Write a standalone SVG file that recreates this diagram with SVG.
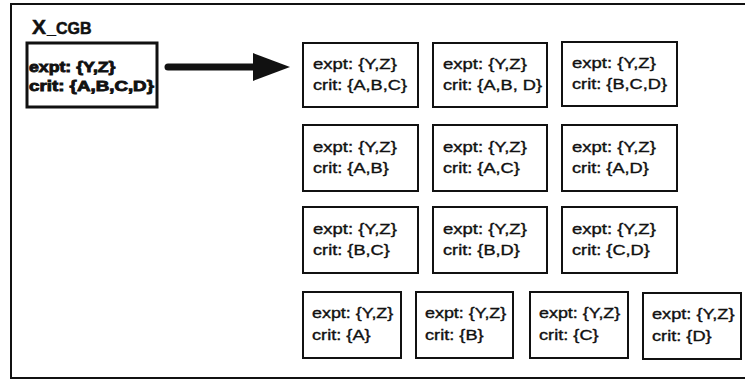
<svg xmlns="http://www.w3.org/2000/svg" width="745" height="381" viewBox="0 0 745 381">
  <defs>
    <marker id="head" markerUnits="userSpaceOnUse" markerWidth="38" markerHeight="30" refX="1" refY="15" orient="auto">
      <path d="M0,1 L37,15 L0,29 Z" fill="#111"/>
    </marker>
    <style>
      .frame { fill: #fff; stroke: #111; stroke-width: 2; }
      .box { fill: #fff; stroke: #111; stroke-width: 2; }
      .src { fill: #fff; stroke: #111; stroke-width: 3; }
      .t { font-family: "Liberation Sans", Arial, Helvetica, sans-serif; font-size: 14px; fill: #111; stroke: #111; stroke-width: 0.35px; }
      .tb { font-family: "Liberation Sans", Arial, Helvetica, sans-serif; font-size: 15px; font-weight: bold; fill: #111; stroke: #111; stroke-width: 0.9px; }
      .title { font-family: "Liberation Sans", Arial, Helvetica, sans-serif; font-weight: bold; fill: #111; stroke: #111; stroke-width: 0.5px; }
      .conn { stroke: #111; stroke-width: 7; stroke-linecap: round; fill: none; }
    </style>
  </defs>

  <rect width="745" height="381" fill="#fff"/>

  <!-- enclosing frame, right side runs past the edge -->
  <rect class="frame" x="11" y="4" width="760" height="374"/>

  <!-- frame title -->
  <text class="title" x="32" y="34"><tspan font-size="21">X</tspan><tspan font-size="16" dx="1">_CGB</tspan></text>

  <!-- source set -->
  <g id="node-src">
    <rect class="src" x="27" y="43" width="130" height="64"/>
    <text class="tb" transform="translate(29,72) scale(1.18,1)">expt: {Y,Z}</text>
    <text class="tb" transform="translate(29,91) scale(1.25,1)">crit: {A,B,C,D}</text>
  </g>

  <!-- expansion arrow -->
  <g id="connectors">
    <line class="conn" x1="168" y1="67" x2="254" y2="67" marker-end="url(#head)"/>
  </g>

  <!-- row 1: three-element subsets -->
  <g id="node-abc">
    <rect class="box" x="303" y="43" width="115" height="64"/>
    <text class="t" transform="translate(313,69) scale(1.32,1)">expt: {Y,Z}</text>
    <text class="t" transform="translate(313,90) scale(1.3,1)">crit: {A,B,C}</text>
  </g>
  <g id="node-abd">
    <rect class="box" x="433" y="43" width="114" height="64"/>
    <text class="t" transform="translate(443,69) scale(1.32,1)">expt: {Y,Z}</text>
    <text class="t" transform="translate(443,90) scale(1.3,1)">crit: {A,B, D}</text>
  </g>
  <g id="node-bcd">
    <rect class="box" x="562" y="42" width="115" height="64"/>
    <text class="t" transform="translate(572,68) scale(1.32,1)">expt: {Y,Z}</text>
    <text class="t" transform="translate(572,89) scale(1.3,1)">crit: {B,C,D}</text>
  </g>

  <!-- row 2: pairs -->
  <g id="node-ab">
    <rect class="box" x="303" y="125" width="115" height="66"/>
    <text class="t" transform="translate(313,152) scale(1.32,1)">expt: {Y,Z}</text>
    <text class="t" transform="translate(313,173) scale(1.3,1)">crit: {A,B}</text>
  </g>
  <g id="node-ac">
    <rect class="box" x="433" y="125" width="114" height="66"/>
    <text class="t" transform="translate(443,152) scale(1.32,1)">expt: {Y,Z}</text>
    <text class="t" transform="translate(443,173) scale(1.3,1)">crit: {A,C}</text>
  </g>
  <g id="node-ad">
    <rect class="box" x="562" y="125" width="115" height="66"/>
    <text class="t" transform="translate(572,152) scale(1.32,1)">expt: {Y,Z}</text>
    <text class="t" transform="translate(572,173) scale(1.3,1)">crit: {A,D}</text>
  </g>

  <!-- row 3: pairs -->
  <g id="node-bc">
    <rect class="box" x="303" y="207" width="115" height="66"/>
    <text class="t" transform="translate(313,234) scale(1.32,1)">expt: {Y,Z}</text>
    <text class="t" transform="translate(313,255) scale(1.3,1)">crit: {B,C}</text>
  </g>
  <g id="node-bd">
    <rect class="box" x="433" y="207" width="114" height="66"/>
    <text class="t" transform="translate(443,234) scale(1.32,1)">expt: {Y,Z}</text>
    <text class="t" transform="translate(443,255) scale(1.3,1)">crit: {B,D}</text>
  </g>
  <g id="node-cd">
    <rect class="box" x="562" y="207" width="115" height="66"/>
    <text class="t" transform="translate(572,234) scale(1.32,1)">expt: {Y,Z}</text>
    <text class="t" transform="translate(572,255) scale(1.3,1)">crit: {C,D}</text>
  </g>

  <!-- row 4: singletons -->
  <g id="node-a">
    <rect class="box" x="303" y="292" width="98" height="66"/>
    <text class="t" transform="translate(312,318) scale(1.28,1)">expt: {Y,Z}</text>
    <text class="t" transform="translate(312,340) scale(1.3,1)">crit: {A}</text>
  </g>
  <g id="node-b">
    <rect class="box" x="416" y="292" width="97" height="66"/>
    <text class="t" transform="translate(425,318) scale(1.28,1)">expt: {Y,Z}</text>
    <text class="t" transform="translate(425,340) scale(1.3,1)">crit: {B}</text>
  </g>
  <g id="node-c">
    <rect class="box" x="530" y="292" width="98" height="66"/>
    <text class="t" transform="translate(539,318) scale(1.28,1)">expt: {Y,Z}</text>
    <text class="t" transform="translate(539,340) scale(1.3,1)">crit: {C}</text>
  </g>
  <g id="node-d">
    <rect class="box" x="643" y="293" width="98" height="66"/>
    <text class="t" transform="translate(652,319) scale(1.3,1)">expt: {Y,Z}</text>
    <text class="t" transform="translate(652,341) scale(1.3,1)">crit: {D}</text>
  </g>
</svg>
